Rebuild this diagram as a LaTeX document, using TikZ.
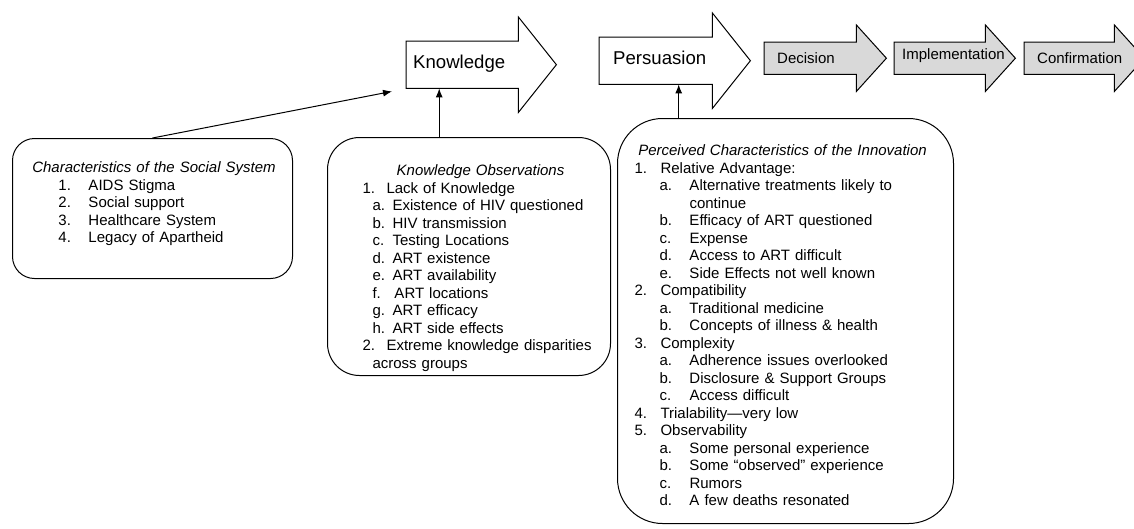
\documentclass[tikz,border=0pt]{standalone}
\usepackage{fontspec}
\setmainfont{Liberation Sans}
\usepackage{tikz}
\usepackage{xcolor}
\usetikzlibrary{positioning,backgrounds,arrows.meta}
\colorlet{stagegray}{black!15}
\tikzstyle{stageshaft} = [
    inner sep=0pt,
    anchor=north west
    ]
\tikzstyle{stageoutline} = [
    draw=black,
    line width=1pt,
    line join=miter
    ]
\tikzstyle{stagelabel} = [
    inner sep=0pt,
    font=\fontsize{15}{18}\selectfont
    ]
\tikzstyle{biglabel} = [
    stagelabel,
    font=\fontsize{18.6}{22}\selectfont
    ]
\tikzstyle{obsbox} = [
    draw=black,
    line width=1pt,
    rectangle,
    anchor=north west
    ]
\tikzstyle{obstext} = [
    inner sep=0pt,
    align=left,
    font=\fontsize{15}{17.5}\selectfont\setlength{\parindent}{0pt}
    ]
\tikzstyle{link} = [
    line width=1pt,
    -{Latex[length=9pt,width=7pt]}
    ]

\begin{document}
\begin{tikzpicture}[x=1pt,y=-1pt]
\useasboundingbox (0,0) rectangle (1134,528);

% stages of the decision process
\node [stageshaft, minimum width=112pt, minimum height=47pt] (knowledge) at (406,41) {};
\node [stageshaft, minimum width=113pt, minimum height=47pt] (persuasion) at (599,37) {};
\node [stageshaft, minimum width=92pt, minimum height=32pt] (decision) at (764,42) {};
\node [stageshaft, minimum width=91pt, minimum height=32pt] (implementation) at (894,42) {};
\node [stageshaft, minimum width=90pt, minimum height=32pt] (confirmation) at (1024,42) {};

\node [biglabel, right=7pt of knowledge.west, yshift=1pt] (knowledgelabel) {Knowledge};
\node [biglabel, right=14pt of persuasion.west, yshift=3pt] (persuasionlabel) {Persuasion};
\node [stagelabel, right=13pt of decision.west] (decisionlabel) {Decision};
\node [stagelabel, right=8pt of implementation.west, yshift=2.5pt] (implementationlabel) {Implementation};
\node [stagelabel, right=13pt of confirmation.west] (confirmationlabel) {Confirmation};

\begin{scope}[on background layer]
\foreach \s/\e/\l/\c in {knowledge/24/38/white, persuasion/24/38/white,
    decision/17/30/stagegray, implementation/17/30/stagegray, confirmation/17/30/stagegray}
  \draw [stageoutline, fill=\c] (\s.north west) -- (\s.north east)
    -- ([yshift=\e pt]\s.north east) -- ([xshift=\l pt]\s.east)
    -- ([yshift=-\e pt]\s.south east) -- (\s.south east)
    -- (\s.south west) -- cycle;
\end{scope}

% observation boxes
\node [obsbox, rounded corners=22pt, minimum width=280pt, minimum height=140pt] (socialbox) at (12,138) {};
\node [obsbox, rounded corners=32pt, minimum width=283pt, minimum height=238pt] (knowobs) at (327,137) {};
\node [obsbox, rounded corners=45pt, minimum width=336pt, minimum height=405pt] (percbox) at (617,118) {};

\node [obstext, text width=262pt, below=23.5pt of socialbox.north, xshift=1.5pt] (socialtext) {%
{\centering\itshape Characteristics of the Social System\par}
\hspace*{35.5pt}\makebox[30pt][l]{1.}AIDS Stigma\\
\hspace*{35.5pt}\makebox[30pt][l]{2.}Social support\\
\hspace*{35.5pt}\makebox[30pt][l]{3.}Healthcare System\\
\hspace*{35.5pt}\makebox[30pt][l]{4.}Legacy of Apartheid};

\node [obstext, text width=236pt, below=27.5pt of knowobs.north, xshift=11.5pt] (knowtext) {%
{\centering\itshape Knowledge Observations\par}
\makebox[24pt][l]{1.}Lack of Knowledge\\
\hspace*{10pt}\makebox[20pt][l]{a.}Existence of HIV questioned\\
\hspace*{10pt}\makebox[20pt][l]{b.}HIV transmission\\
\hspace*{10pt}\makebox[20pt][l]{c.}Testing Locations\\
\hspace*{10pt}\makebox[20pt][l]{d.}ART existence\\
\hspace*{10pt}\makebox[20pt][l]{e.}ART availability\\
\hspace*{10pt}\makebox[22pt][l]{f.}ART locations\\
\hspace*{10pt}\makebox[20pt][l]{g.}ART efficacy\\
\hspace*{10pt}\makebox[20pt][l]{h.}ART side effects\\
\makebox[24pt][l]{2.}Extreme knowledge disparities\\
\hspace*{10pt}across groups};

\node [obstext, text width=296pt, below=26.5pt of percbox.north, xshift=-3pt] (perctext) {%
{\centering\itshape Perceived Characteristics of the Innovation\par}
\makebox[26pt][l]{1.}Relative Advantage:\\
\hspace*{25pt}\makebox[30pt][l]{a.}Alternative treatments likely to\\
\hspace*{55pt}continue\\
\hspace*{25pt}\makebox[30pt][l]{b.}Efficacy of ART questioned\\
\hspace*{25pt}\makebox[30pt][l]{c.}Expense\\
\hspace*{25pt}\makebox[30pt][l]{d.}Access to ART difficult\\
\hspace*{25pt}\makebox[30pt][l]{e.}Side Effects not well known\\
\makebox[26pt][l]{2.}Compatibility\\
\hspace*{25pt}\makebox[30pt][l]{a.}Traditional medicine\\
\hspace*{25pt}\makebox[30pt][l]{b.}Concepts of illness \& health\\
\makebox[26pt][l]{3.}Complexity\\
\hspace*{25pt}\makebox[30pt][l]{a.}Adherence issues overlooked\\
\hspace*{25pt}\makebox[30pt][l]{b.}Disclosure \& Support Groups\\
\hspace*{25pt}\makebox[30pt][l]{c.}Access difficult\\
\makebox[26pt][l]{4.}Trialability---very low\\
\makebox[26pt][l]{5.}Observability\\
\hspace*{25pt}\makebox[30pt][l]{a.}Some personal experience\\
\hspace*{25pt}\makebox[30pt][l]{b.}Some ``observed'' experience\\
\hspace*{25pt}\makebox[30pt][l]{c.}Rumors\\
\hspace*{25pt}\makebox[30pt][l]{d.}A few deaths resonated};

% links into the stages
\coordinate (socialend) at ([xshift=-14pt,yshift=-3pt]knowledge.south west);
\draw [link] (socialbox.north) -- (socialend);
\draw [link] ([xshift=-23pt]knowledge.south |- knowobs.north) -- ([xshift=-23pt]knowledge.south);
\draw [link] ([xshift=23pt]persuasion.south |- percbox.north) -- ([xshift=23pt]persuasion.south);
\end{tikzpicture}
\end{document}
